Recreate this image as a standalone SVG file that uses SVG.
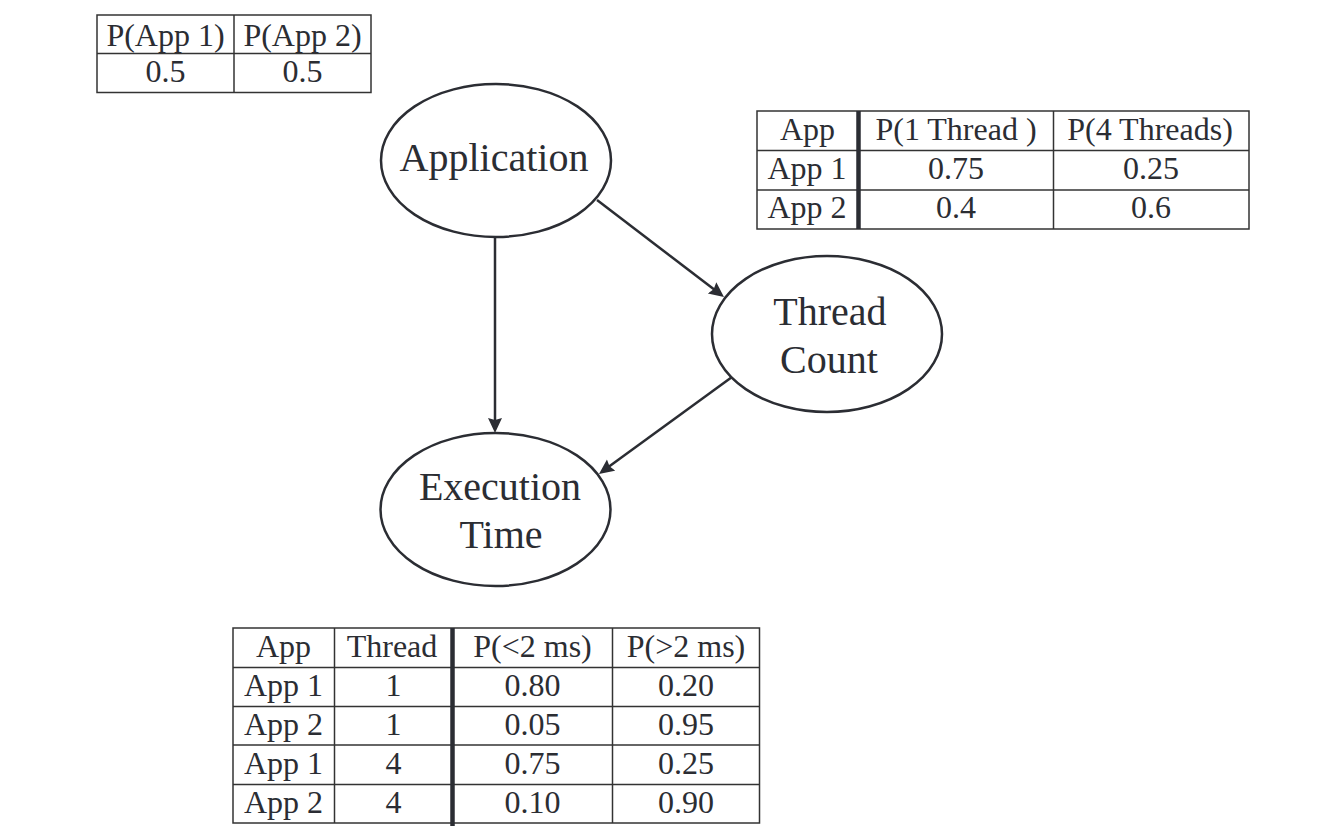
<svg xmlns="http://www.w3.org/2000/svg" width="1329" height="837" viewBox="0 0 1329 837">
<style>
.bg{fill:#ffffff}
.node ellipse{fill:#ffffff;stroke:#2b2d33;stroke-width:2.5}
.nt{font-family:"Liberation Serif","Times New Roman",serif;font-size:40px;fill:#2b2d33;text-anchor:middle}
.tt{font-family:"Liberation Serif","Times New Roman",serif;font-size:32px;fill:#2b2d33;text-anchor:middle}
.grid{fill:none;stroke:#333333;stroke-width:1.5}
.thick{stroke:#2b2d33;stroke-width:4.5}
.edge{stroke:#2b2d33;stroke-width:2.5;fill:none}
</style>
<defs>
<marker id="arrow" markerUnits="userSpaceOnUse" markerWidth="16" markerHeight="16" refX="11" refY="7" orient="auto">
<path d="M0,0 L15,7 L0,14 L2,7 z" fill="#2b2d33"/>
</marker>
</defs>
<rect class="bg" x="0" y="0" width="1329" height="837"/>

<g id="connectors">
<line class="edge" x1="495" y1="237.5" x2="495" y2="429" marker-end="url(#arrow)"/>
<line class="edge" x1="597" y1="200" x2="720.8" y2="294.6" marker-end="url(#arrow)"/>
<line class="edge" x1="732" y1="377" x2="602.2" y2="471.6" marker-end="url(#arrow)"/>
</g>

<g id="node-application" class="node">
<ellipse cx="496" cy="160.5" rx="115" ry="76.5"/>
<text class="nt" x="494" y="171">Application</text>
</g>
<g id="node-thread-count" class="node">
<ellipse cx="827" cy="334" rx="115" ry="78"/>
<text class="nt" x="830" y="325">Thread</text>
<text class="nt" x="829" y="373">Count</text>
</g>
<g id="node-execution-time" class="node">
<ellipse cx="495.5" cy="509.5" rx="115" ry="76.5"/>
<text class="nt" x="500" y="500">Execution</text>
<text class="nt" x="501" y="548">Time</text>
</g>

<g id="table-application">
<rect class="grid" x="97" y="15" width="274" height="77.5"/>
<line class="grid" x1="97" y1="53.5" x2="371" y2="53.5"/>
<line class="grid" x1="234" y1="15" x2="234" y2="92.5"/>
<text class="tt" x="165.5" y="46">P(App 1)</text>
<text class="tt" x="302.5" y="46">P(App 2)</text>
<text class="tt" x="165.5" y="82">0.5</text>
<text class="tt" x="302.5" y="82">0.5</text>
</g>

<g id="table-thread-count">
<rect class="grid" x="757" y="111" width="492" height="118"/>
<line class="grid" x1="757" y1="150.5" x2="1249" y2="150.5"/>
<line class="grid" x1="757" y1="190" x2="1249" y2="190"/>
<line class="grid" x1="1053.5" y1="111" x2="1053.5" y2="229"/>
<line class="thick" x1="858.5" y1="111" x2="858.5" y2="229"/>
<text class="tt" x="807.5" y="140">App</text>
<text class="tt" x="956" y="140">P(1 Thread )</text>
<text class="tt" x="1150" y="140">P(4 Threads)</text>
<text class="tt" x="807" y="179">App 1</text>
<text class="tt" x="956" y="179">0.75</text>
<text class="tt" x="1151" y="179">0.25</text>
<text class="tt" x="807" y="218">App 2</text>
<text class="tt" x="956" y="218">0.4</text>
<text class="tt" x="1151" y="218">0.6</text>
</g>

<g id="table-execution-time">
<rect class="grid" x="233" y="628" width="526.5" height="195"/>
<line class="grid" x1="233" y1="667.5" x2="759.5" y2="667.5"/>
<line class="grid" x1="233" y1="706.5" x2="759.5" y2="706.5"/>
<line class="grid" x1="233" y1="745" x2="759.5" y2="745"/>
<line class="grid" x1="233" y1="784.5" x2="759.5" y2="784.5"/>
<line class="grid" x1="334.5" y1="628" x2="334.5" y2="823"/>
<line class="grid" x1="612.5" y1="628" x2="612.5" y2="823"/>
<line class="thick" x1="452.5" y1="628" x2="452.5" y2="826"/>
<text class="tt" x="283.5" y="657">App</text>
<text class="tt" x="392" y="657">Thread</text>
<text class="tt" x="532.5" y="657">P(&lt;2 ms)</text>
<text class="tt" x="686" y="657">P(&gt;2 ms)</text>
<text class="tt" x="283.5" y="696">App 1</text>
<text class="tt" x="393.5" y="696">1</text>
<text class="tt" x="532.5" y="696">0.80</text>
<text class="tt" x="686" y="696">0.20</text>
<text class="tt" x="283.5" y="735">App 2</text>
<text class="tt" x="393.5" y="735">1</text>
<text class="tt" x="532.5" y="735">0.05</text>
<text class="tt" x="686" y="735">0.95</text>
<text class="tt" x="283.5" y="774">App 1</text>
<text class="tt" x="393.5" y="774">4</text>
<text class="tt" x="532.5" y="774">0.75</text>
<text class="tt" x="686" y="774">0.25</text>
<text class="tt" x="283.5" y="813">App 2</text>
<text class="tt" x="393.5" y="813">4</text>
<text class="tt" x="532.5" y="813">0.10</text>
<text class="tt" x="686" y="813">0.90</text>
</g>
</svg>
